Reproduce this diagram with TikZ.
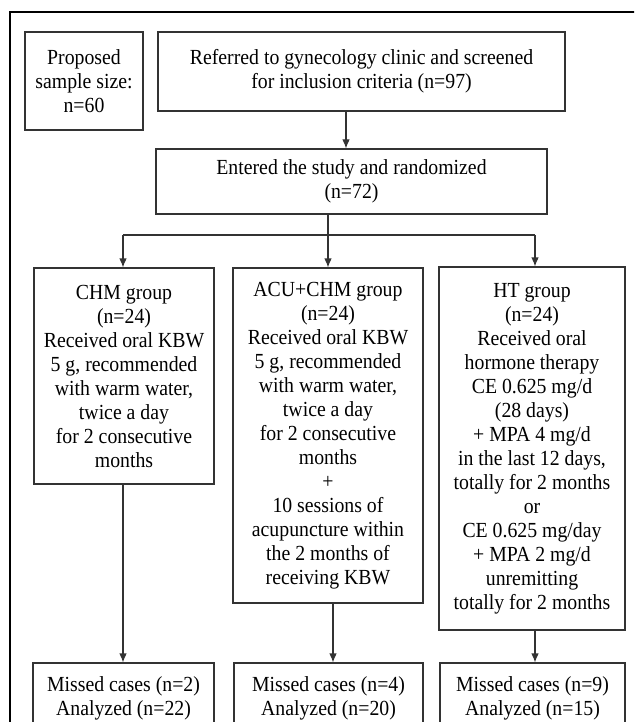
\documentclass[tikz,border=0pt]{standalone}
\usepackage{fontspec}
\setmainfont{Liberation Serif}[FakeStretch=0.92]
\usetikzlibrary{arrows.meta}

\begin{document}
\begin{tikzpicture}[x=1pt, y=-1pt,
  box/.style={draw=black!80, line width=1.1pt, align=center, inner sep=0pt,
              font=\fontsize{21.5}{24}\selectfont},
  link/.style={draw=black!80, line width=1.1pt},
  flow/.style={link, -{Latex[length=9pt,width=7.5pt]}}]

  % page area and outer frame (continues past the right and bottom edges)
  \useasboundingbox (0,0) rectangle (634,722);
  \clip (0,0) rectangle (634,722);
  \fill[white] (0,0) rectangle (634,722);
  \draw[line width=1.3pt] (10,12) rectangle (700,800);

  % top row
  \node[box, minimum width=118pt, minimum height=98pt] (size) at (84,81)
    {Proposed\\sample size:\\n=60};
  \node[box, minimum width=407pt, minimum height=79pt] (referred) at (361.5,71.5)
    {Referred to gynecology clinic and screened\\for inclusion criteria (n=97)};

  % randomization
  \node[box, minimum width=391pt, minimum height=65pt] (entered) at (351.5,181.5)
    {Entered the study and randomized\\(n=72)};

  % treatment groups
  \node[box, minimum width=180pt, minimum height=216pt] (chm) at (124,376)
    {CHM group\\(n=24)\\Received oral KBW\\5 g, recommended\\with warm water,\\twice a day\\for 2 consecutive\\months};
  \node[box, minimum width=190pt, minimum height=335pt] (acu) at (328,435.5)
    {ACU+CHM group\\(n=24)\\Received oral KBW\\5 g, recommended\\with warm water,\\twice a day\\for 2 consecutive\\months\\+\\10 sessions of\\acupuncture within\\the 2 months of\\receiving KBW};
  \node[box, minimum width=186pt, minimum height=363pt] (ht) at (532,448.5)
    {HT group\\(n=24)\\Received oral\\hormone therapy\\CE 0.625 mg/d\\(28 days)\\+ MPA 4 mg/d\\in the last 12 days,\\totally for 2 months\\or\\CE 0.625 mg/day\\+ MPA 2 mg/d\\unremitting\\totally for 2 months};

  % outcomes
  \node[box, minimum width=181pt, minimum height=71pt] (out1) at (123.5,698.5)
    {Missed cases (n=2)\\Analyzed (n=22)};
  \node[box, minimum width=189pt, minimum height=71pt] (out2) at (328.5,698.5)
    {Missed cases (n=4)\\Analyzed (n=20)};
  \node[box, minimum width=185pt, minimum height=71pt] (out3) at (532.5,698.5)
    {Missed cases (n=9)\\Analyzed (n=15)};

  % connector guide points
  \coordinate (rx) at (346,0);
  \coordinate (split) at (328,235);
  \coordinate (barL) at (123,235);
  \coordinate (barR) at (535,235);
  \coordinate (ax) at (333,0);

  % connectors
  \draw[flow] (referred.south -| rx) -- (entered.north -| rx);
  \draw[link] (entered.south -| split) -- (split);
  \draw[link] (barL) -- (barR);
  \draw[flow] (barL) -- (chm.north -| barL);
  \draw[flow] (split) -- (acu.north -| split);
  \draw[flow] (barR) -- (ht.north -| barR);

  \draw[flow] (chm.south -| barL) -- (out1.north -| barL);
  \draw[flow] (acu.south -| ax) -- (out2.north -| ax);
  \draw[flow] (ht.south -| barR) -- (out3.north -| barR);
\end{tikzpicture}
\end{document}
